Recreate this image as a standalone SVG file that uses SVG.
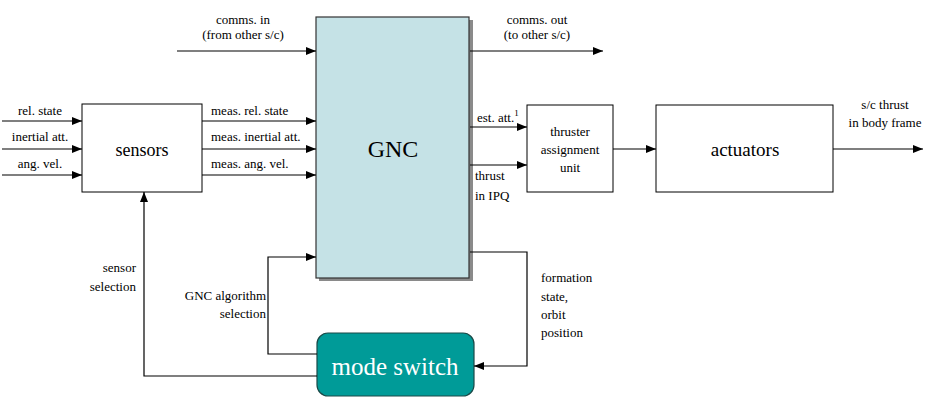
<svg xmlns="http://www.w3.org/2000/svg" width="928" height="397" viewBox="0 0 928 397">
<defs>
<marker id="ah" markerWidth="10" markerHeight="8" refX="10" refY="4" orient="auto" markerUnits="userSpaceOnUse">
<path d="M0,0 L10,4 L0,8 Z" fill="#000"/>
</marker>
<style>
text{font-family:'Liberation Serif','Liberation Sans',sans-serif}
.box{fill:#fff;stroke:#000;stroke-width:1}
.lbl{font-size:13px;fill:#000}
.big{fill:#000;text-anchor:middle}
.ln{fill:none;stroke:#000;stroke-width:1.2}
.ar{marker-end:url(#ah)}
</style>
</defs>
<rect width="928" height="397" fill="#fff"/>

<g id="gnc">
<rect x="319" y="20" width="154" height="261" fill="#8a8a8a"/>
<rect x="316" y="17" width="153" height="261" fill="#c5e2e6" stroke="#333" stroke-width="1.2"/>
<text class="big" x="393" y="157" font-size="24">GNC</text>
</g>

<g id="sensors">
<rect class="box" x="82" y="104" width="120" height="88"/>
<text class="big" x="142" y="156" font-size="18">sensors</text>
</g>

<g id="thruster">
<rect class="box" x="527" y="105" width="86" height="87"/>
<text class="big" x="570" y="136" font-size="13">thruster</text>
<text class="big" x="570" y="154" font-size="13">assignment</text>
<text class="big" x="570" y="172" font-size="13">unit</text>
</g>

<g id="actuators">
<rect class="box" x="656" y="105" width="177" height="87"/>
<text class="big" x="745" y="156" font-size="19">actuators</text>
</g>

<g id="modeswitch">
<rect x="317" y="333" width="157" height="63" rx="11" ry="11" fill="#009b98" stroke="#1a4a48" stroke-width="1.2"/>
<text class="big" x="395" y="375" font-size="25" style="fill:#fff">mode switch</text>
</g>

<g id="connectors">
<path class="ln ar" d="M177,51 H316"/>
<path class="ln ar" d="M470,51 H603"/>
<path class="ln ar" d="M2,121 H82"/>
<path class="ln ar" d="M2,149 H82"/>
<path class="ln ar" d="M2,175 H82"/>
<path class="ln ar" d="M202,121 H316"/>
<path class="ln ar" d="M202,149 H316"/>
<path class="ln ar" d="M202,175 H316"/>
<path class="ln ar" d="M470,127 H527"/>
<path class="ln ar" d="M470,165 H527"/>
<path class="ln ar" d="M613,149 H656"/>
<path class="ln ar" d="M833,149 H923"/>
<path class="ln ar" d="M317,376 H144 V192"/>
<path class="ln ar" d="M317,354 H268 V257 H316"/>
<path class="ln ar" d="M470,252 H527 V366 H474"/>
</g>

<g id="labels">
<text class="lbl" x="243" y="24" text-anchor="middle">comms. in</text>
<text class="lbl" x="243" y="39" text-anchor="middle">(from other s/c)</text>
<text class="lbl" x="537" y="24" text-anchor="middle">comms. out</text>
<text class="lbl" x="537" y="39" text-anchor="middle">(to other s/c)</text>
<text class="lbl" x="40" y="115" text-anchor="middle">rel. state</text>
<text class="lbl" x="40" y="141" text-anchor="middle">inertial att.</text>
<text class="lbl" x="40" y="168" text-anchor="middle">ang. vel.</text>
<text class="lbl" x="211" y="115">meas. rel. state</text>
<text class="lbl" x="211" y="141">meas. inertial att.</text>
<text class="lbl" x="211" y="168">meas. ang. vel.</text>
<text class="lbl" x="477" y="122">est. att.<tspan font-size="9" dy="-6">1</tspan></text>
<text class="lbl" x="475" y="180">thrust</text>
<text class="lbl" x="475" y="200">in IPQ</text>
<text class="lbl" x="885" y="109" text-anchor="middle">s/c thrust</text>
<text class="lbl" x="885" y="127" text-anchor="middle">in body frame</text>
<text class="lbl" x="136" y="272" text-anchor="end">sensor</text>
<text class="lbl" x="136" y="291" text-anchor="end">selection</text>
<text class="lbl" x="266" y="300" text-anchor="end">GNC algorithm</text>
<text class="lbl" x="266" y="318" text-anchor="end">selection</text>
<text class="lbl" x="541" y="282">formation</text>
<text class="lbl" x="541" y="301">state,</text>
<text class="lbl" x="541" y="319">orbit</text>
<text class="lbl" x="541" y="337">position</text>
</g>
</svg>
